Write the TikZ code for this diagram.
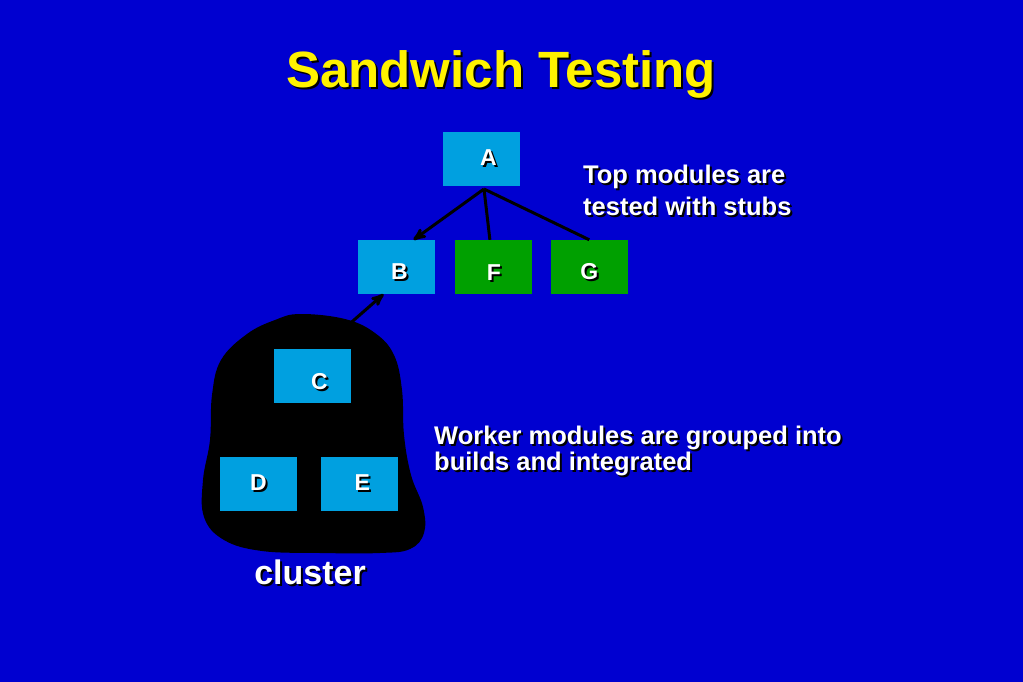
\documentclass[tikz,border=0pt]{standalone}
\usepackage{fontspec}
\setmainfont{Liberation Sans}
\usetikzlibrary{arrows,positioning}
\definecolor{slideblue}{RGB}{0,0,208}
\definecolor{boxcyan}{RGB}{0,160,224}
\definecolor{boxgreen}{RGB}{0,160,0}
\newcommand{\shad}[1]{\leavevmode\rlap{\hspace{2bp}\raisebox{-2bp}{\color{black}#1}}#1}

\begin{document}
\begin{tikzpicture}[x=1bp, y=-1bp, >=stealth', node distance=20bp]
\tikzstyle{module}=[fill=boxcyan,text=white,minimum width=77bp,minimum height=54bp,inner sep=0pt,font=\fontsize{23bp}{26bp}\selectfont\bfseries]
\tikzstyle{stub}=[module,fill=boxgreen]
\tikzstyle{note}=[text=white,inner sep=0pt,align=left,anchor=base west,font=\fontsize{25.5bp}{31bp}\selectfont\bfseries]
\fill[slideblue] (0,0) rectangle (1023,682);
\useasboundingbox (0,0) rectangle (1023,682);

% the cluster
\fill[black] plot[smooth cycle, tension=0.65] coordinates {
  (300,314) (345,319) (375,333) (394,355) (402,390) (404,435) (411,475)
  (423,507) (424,533) (410,549) (380,553) (320,553) (262,551) (224,540)
  (204,517) (203,480) (210,440) (212,395) (221,360) (247,334) (275,320)};

\node[anchor=base, text=yellow, font=\fontsize{51bp}{60bp}\selectfont\bfseries]
  (title) at (501,88) {\shad{Sandwich Testing}};

\node[module]   (A) at (481.5,159)   {\hspace{14bp}\shad{A}};
\node[module]   (B) at (396.5,267)   {\hspace{6bp}\rule{0pt}{26bp}\shad{B}};
\node[stub]     (F) [right=20bp of B] {\rule{0pt}{28bp}\shad{F}};
\node[stub]     (G) [right=18bp of F] {\rule{0pt}{28bp}\shad{G}};
\node[module]   (C) at (312.5,376)   {\hspace{14bp}\rule{0pt}{29bp}\shad{C}};
\node[module]   (D) at (258.5,484)   {\shad{D}};
\node[module]   (E) [right=24bp of D] {\hspace{5bp}\shad{E}};

\coordinate (a0) at (484,189);
\coordinate (c0) at (346,327);

\begin{scope}[line width=3bp]
\path[draw]
(a0) edge[->] ([xshift=17bp]B.north)
     edge     ([xshift=-4bp]F.north)
     edge     (G.north)
(c0) edge[->] ([xshift=-13bp]B.south);
\end{scope}

\node[note] (top) at (583,215) {\shad{Top modules are}\\\shad{tested with stubs}};
\node[note, font=\fontsize{25.5bp}{26bp}\selectfont\bfseries]
  (worker) at (434,470) {\shad{Worker modules are grouped into}\\\shad{builds and integrated}};
\node[anchor=base, text=white, font=\fontsize{34bp}{40bp}\selectfont\bfseries]
  (cluster) at (310,584) {\shad{cluster}};
\end{tikzpicture}
\end{document}
